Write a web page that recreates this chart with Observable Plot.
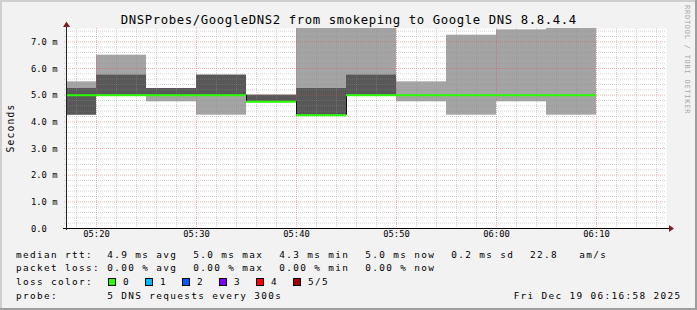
<!DOCTYPE html>
<html><head><meta charset="utf-8">
<script src="https://cdn.jsdelivr.net/npm/d3@7"></script>
<script src="https://cdn.jsdelivr.net/npm/@observablehq/plot@0.6"></script>
<style>
html,body{margin:0;padding:0;background:#f2f2f2;}
#chart svg{display:block;}
</style></head><body><div id="chart"></div>
<script>
// ---- data ----
const intervalEnd = ["05:20","05:25","05:30","05:35","05:40","05:45","05:50","05:55","06:00","06:05","06:10"];
const ping1 = [4.25, 5.00, 4.75, 4.25, 4.75, 4.25, 5.00, 4.75, 4.25, 4.75, 4.25];
const ping2 = [4.25, 5.00, 5.00, 5.00, 4.75, 4.25, 5.00, 5.00, 5.00, 5.00, 5.00];
const medianRtt = [5.00, 5.00, 5.00, 5.00, 4.75, 4.25, 5.00, 5.00, 5.00, 5.00, 5.00];
const ping4 = [5.25, 5.75, 5.25, 5.75, 5.00, 5.25, 5.75, 5.00, 5.00, 5.00, 5.00];
const ping5 = [5.50, 6.50, 5.25, 5.75, 5.00, 7.80, 7.80, 5.50, 7.25, 7.45, 7.80];
const yTicks = [0, 1, 2, 3, 4, 5, 6, 7];
const yTickLabels = ["0.0", "1.0 m", "2.0 m", "3.0 m", "4.0 m", "5.0 m", "6.0 m", "7.0 m"];
const xTickLabels = ["05:20", "05:30", "05:40", "05:50", "06:00", "06:10"];
const rttStats = ["4.9 ms avg", "5.0 ms max", "4.3 ms min", "5.0 ms now", "0.2 ms sd"];
const rttAm = ["22.8", "am/s"];
const lossStats = ["0.00 % avg", "0.00 % max", "0.00 % min", "0.00 % now"];
const lossLabels = ["0", "1", "2", "3", "4", "5/5"];
const lossColors = ["#26ff00", "#00b8ff", "#0059ff", "#7e00ff", "#ff0000", "#a10000"];
const titleText = "DNSProbes/GoogleDNS2 from smokeping to Google DNS 8.8.4.4";
const probeText = "5 DNS requests every 300s";
const dateText = "Fri Dec 19 06:16:58 2025";
const watermark = "RRDTOOL / TOBI OETIKER";

// ---- helpers ----
const T = (hm) => { const [h, m] = hm.split(":").map(Number); return new Date(Date.UTC(2025, 11, 19, h, m)); };
const STEP = 5 * 60 * 1000;
const rows = intervalEnd.map((e, i) => ({
  start: new Date(T(e) - STEP), end: T(e),
  p1: ping1[i], p2: ping2[i], med: medianRtt[i], p4: ping4[i], p5: ping5[i]
}));
const steps = rows.slice(1).map((r, i) => ({x: r.start, a: rows[i].med, b: r.med})).filter(d => d.a !== d.b);
const x0 = T("05:17"), x1 = T("06:17");
const majorX = xTickLabels.map(T);
const minorX = d3.utcMinute.every(2).range(x0, x1).filter(d => d.getUTCMinutes() % 10 !== 0);
const minorY = d3.range(1, 38).filter(i => i % 5 !== 0).map(i => i * 0.2);
const majorY = yTicks.filter(d => d > 0);

const FONT = "DejaVu Sans Mono";
const GRID = {stroke: "#8f8f8f", strokeOpacity: 0.4, strokeDasharray: "1,1"};
const MGRID = {stroke: "#de4f4f", strokeOpacity: 0.45, strokeDasharray: "1,1"};

const fig = Plot.plot({
  width: 697, height: 310,
  marginLeft: 66, marginRight: 31, marginTop: 28, marginBottom: 82,
  style: {background: "#f2f2f2", overflow: "visible"},
  x: {type: "utc", domain: [x0, x1], axis: null},
  y: {domain: [0, 7.5], axis: null},
  marks: [
    Plot.frame({fill: "white", stroke: "none"}),
    Plot.rectY(rows, {x1: "start", x2: "end", y1: "p1", y2: "p5", fill: "#a4a4a4", clip: true}),
    Plot.rectY(rows, {x1: "start", x2: "end", y1: "p2", y2: "p4", fill: "#585858", clip: true}),
    Plot.ruleY(minorY, {...GRID, insetLeft: -2}),
    Plot.ruleX(minorX, {...GRID, insetBottom: -2}),
    Plot.ruleY(majorY, {...MGRID, insetLeft: -2}),
    Plot.ruleX(majorX, {...MGRID, insetBottom: -3}),
    Plot.ruleX(steps, {x: "x", y1: "a", y2: "b", stroke: "#111"}),
    Plot.ruleY(rows, {y: "med", x1: "start", x2: "end", stroke: lossColors[0], strokeWidth: 2, clip: true}),
    Plot.ruleY([0], {stroke: "#000", insetLeft: -3, insetRight: -3}),
    Plot.ruleX([x0], {stroke: "#1f1f1f", insetTop: -2, insetBottom: -2}),
    Plot.text(yTicks, {y: d => d, text: (d, i) => yTickLabels[i], frameAnchor: "left", textAnchor: "start",
      dx: -35.5, dy: 0.5, fontFamily: FONT, fontSize: 8.8, fill: "#000", ariaLabel: "ylabels"}),
    Plot.text(majorX, {x: d => d, text: (d, i) => xTickLabels[i], frameAnchor: "bottom",
      dy: 8.7, fontFamily: FONT, fontSize: 8.8, fill: "#000", ariaLabel: "xlabels"})
  ]
});
document.getElementById("chart").appendChild(fig);

const svg = d3.select(fig);
svg.selectAll('g[aria-label="ylabels"] text, g[aria-label="xlabels"] text').attr("letter-spacing", 0.7);

const X = v => fig.scale("x").apply(v), Y = v => fig.scale("y").apply(v);

// arrows
const ax = X(x1) + 0.5, ay = Y(0) + 0.5;
svg.append("path").attr("d", `M${ax + 2.5},${ay - 3.5}L${ax + 7.5},${ay}L${ax + 2.5},${ay + 3.5}Z`).attr("fill", "#801f1f");
const bx = X(x0) + 0.5, by = Y(7.5);
svg.append("path").attr("d", `M${bx - 3.5},${by - 1}L${bx},${by - 6.5}L${bx + 3.5},${by - 1}Z`).attr("fill", "#801f1f");

// shade border
svg.append("rect").attr("x", 0).attr("y", 0).attr("width", 697).attr("height", 2).attr("fill", "#cfcfcf");
svg.append("rect").attr("x", 0).attr("y", 0).attr("width", 2).attr("height", 310).attr("fill", "#cfcfcf");
svg.append("rect").attr("x", 0).attr("y", 308).attr("width", 697).attr("height", 2).attr("fill", "#9e9e9e");
svg.append("rect").attr("x", 695).attr("y", 0).attr("width", 2).attr("height", 310).attr("fill", "#9e9e9e");

function txt(x, y, s, size, ls, anchor) {
  return svg.append("text").attr("x", x).attr("y", y).text(s)
    .attr("font-family", FONT).attr("font-size", size).attr("letter-spacing", ls)
    .attr("text-anchor", anchor || "start").attr("fill", "#000").style("white-space", "pre");
}
// title
txt(348.8, 24, titleText, 12.3, 0.6, "middle");
// y title
txt(0, 0, "Seconds", 9.6, 1.2, "middle").attr("transform", "translate(14,128) rotate(-90)");
// watermark
txt(0, 0, watermark, 7, 0.75, "start").attr("fill", "#a8a8a8").attr("transform", "translate(685,5) rotate(90)");

// legend
const LS = 9.4, LL = 1.35;
const rowY = [257.6, 271.4, 285.1, 298.9];
txt(16, rowY[0], "median rtt:", LS, LL);
rttStats.forEach((s, i) => txt(107.3 + i * 86, rowY[0], s, LS, LL));
txt(530, rowY[0], rttAm[0], LS, LL);
txt(579.3, rowY[0], rttAm[1], LS, LL);
txt(16, rowY[1], "packet loss:", LS, LL);
lossStats.forEach((s, i) => txt(107.3 + i * 86, rowY[1], s, LS, LL));
txt(16, rowY[2], "loss color:", LS, LL);
lossColors.forEach((c, i) => {
  const bx0 = Math.round(108.3 + i * 36.9);
  svg.append("rect").attr("x", bx0 + 0.5).attr("y", 278.5).attr("width", 7).attr("height", 7)
    .attr("fill", c).attr("stroke", "#000").attr("stroke-width", 1);
  txt(bx0 + 15, rowY[2], lossLabels[i], LS, LL);
});
txt(16, rowY[3], "probe:", LS, LL);
txt(107.3, rowY[3], probeText, LS, LL);
txt(681.5, rowY[3], dateText, LS, LL, "end");
</script></body></html>
